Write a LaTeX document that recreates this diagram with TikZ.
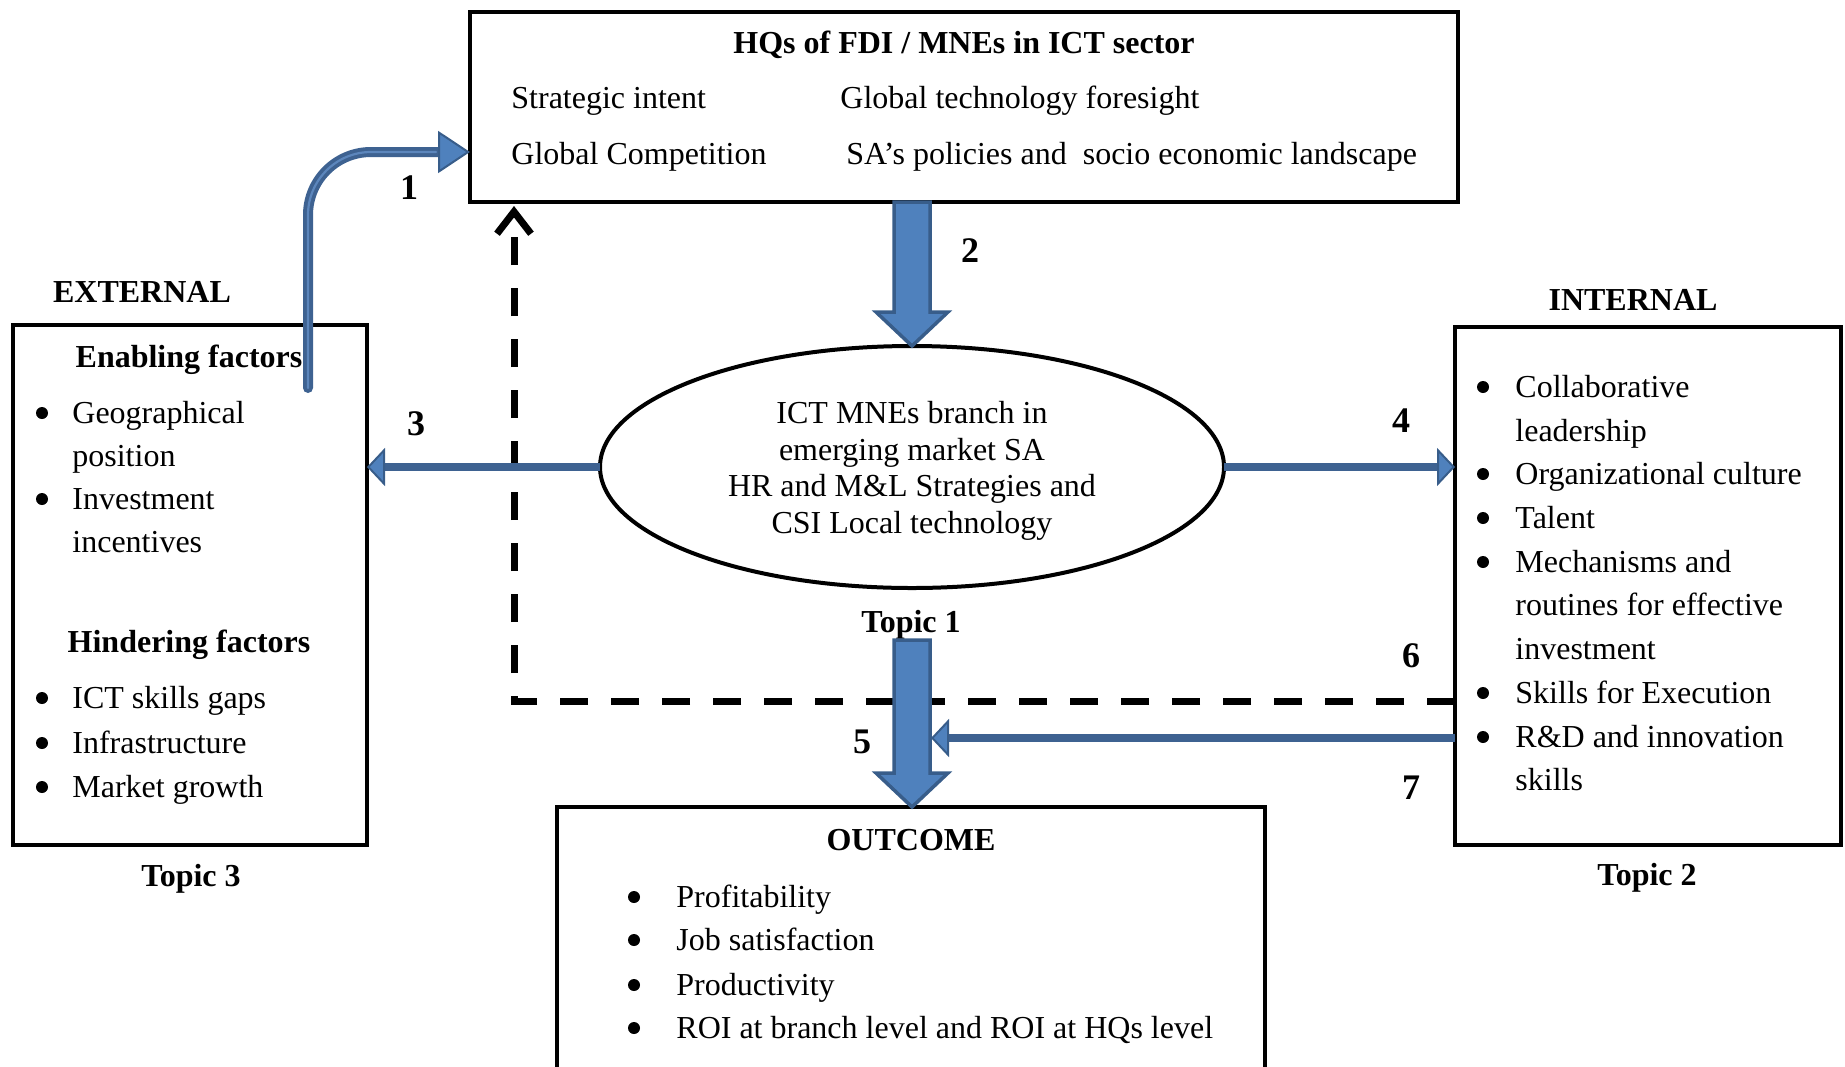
\documentclass[tikz,border=0pt]{standalone}
\usepackage{fontspec}
\setmainfont{Liberation Serif}
\usetikzlibrary{arrows.meta,shapes.geometric,calc}

\definecolor{arrowfill}{HTML}{4F81BD}
\definecolor{arrowline}{HTML}{385D8A}
\definecolor{shaftblue}{HTML}{3E6291}
\definecolor{shaftlight}{HTML}{5C86BC}

\newcommand\bodysize{\fontsize{16}{21.5}\selectfont}
\newcommand\numsize{\fontsize{18}{20}\selectfont}

\tikzset{
  smallhead/.tip={Triangle[length=9pt, width=19pt, fill=arrowfill, color=arrowline, line width=1pt]},
  bighead/.tip={Triangle[length=16pt, width=21pt, fill=arrowfill, color=arrowline, line width=1pt]},
  box/.style={draw, line width=2pt, inner sep=0pt, outer sep=0pt},
  txt/.style={inner sep=0pt, anchor=base west, font=\bodysize},
  hdr/.style={inner sep=0pt, anchor=base, font=\bodysize\bfseries},
  num/.style={inner sep=0pt, font=\numsize\bfseries},
  dot/.style={circle, fill=black, inner sep=0pt, minimum size=6pt},
  link/.style={draw=shaftblue, line width=4pt, -smallhead},
  mainshaft/.style={draw=shaftblue, line width=5pt, line cap=round, rounded corners=31.5pt, -bighead},
  blockarrow/.style={fill=arrowfill, draw=arrowline, line width=1.75pt, line join=miter},
  feedback/.style={draw=black, line width=3.5pt, dash pattern=on 14pt off 11.5pt,
    shorten >=2pt, -{Straight Barb[length=11pt, width=17pt]}}
}

% downward block arrow: #1 = top centre of the shaft, #2 = tip
\newcommand\downblock[2]{%
  \path[blockarrow] let \p1=(#1), \p2=(#2) in
    (\x2-9pt,\y1) -- (\x2-9pt,\y2+17pt) -- (\x2-18pt,\y2+17pt) -- (\x2,\y2)
    -- (\x2+18pt,\y2+17pt) -- (\x2+9pt,\y2+17pt) -- (\x2+9pt,\y1) -- cycle;}

\begin{document}
\begin{tikzpicture}[x=0.5pt,y=-0.5pt]
\useasboundingbox (0,0) rectangle (1845,1066);
\clip (0,0) rectangle (1845,1066);

% ---------- boxes ----------
\node[box, minimum width=494pt, minimum height=95pt] (hq) at (964,107) {};
\node[box, minimum width=177pt, minimum height=260pt] (ext) at (190,585) {};
\node[box, minimum width=193pt, minimum height=259pt] (int) at (1648,586) {};
\node[box, minimum width=354pt, minimum height=200pt] (outcome) at (911,1007) {};
\node[draw, ellipse, line width=2pt, minimum width=312pt, minimum height=121pt,
      inner sep=0pt, outer sep=0pt, align=center,
      font=\fontsize{16}{18.33}\selectfont] (branch) at (912,467)
  {\rule{0pt}{15pt}ICT MNEs branch in\\emerging market SA\\HR and M\&L Strategies and\\CSI Local technology};

% ---------- headquarters ----------
\node[hdr] (hqtitle) at (964,53) {HQs of FDI / MNEs in ICT sector};
\node[txt] (hq1) at (511,108) {Strategic intent};
\node[txt] (hq2) at (840,108) {Global technology foresight};
\node[txt] (hq3) at (511,164) {Global Competition};
\node[txt] (hq4) at (846,164) {SA’s policies and~ socio economic landscape};

% ---------- external factors ----------
\node[hdr] (exthead) at (142,302) {EXTERNAL};
\node[hdr] (enab) at (189,367) {Enabling factors};
\node[dot] (eb1) at (42,413) {};
\node[txt] (e1) at (72,423) {Geographical};
\node[txt] (e1b) at (72,466) {position};
\node[dot] (eb2) at (42,499) {};
\node[txt] (e2) at (72,509) {Investment};
\node[txt] (e2b) at (72,552) {incentives};
\node[hdr] (hind) at (189,652) {Hindering factors};
\node[dot] (hb1) at (42,698) {};
\node[txt] (h1) at (72,708) {ICT skills gaps};
\node[dot] (hb2) at (42,743) {};
\node[txt] (h2) at (72,753) {Infrastructure};
\node[dot] (hb3) at (42,787) {};
\node[txt] (h3) at (72,797) {Market growth};
\node[hdr] (topic3) at (191,886) {Topic 3};

% ---------- internal factors ----------
\node[hdr] (inthead) at (1633,310) {INTERNAL};
\node[dot] (ib1) at (1483,387) {};
\node[txt] (i1) at (1515,397) {Collaborative};
\node[txt] (i1b) at (1515,441) {leadership};
\node[dot] (ib2) at (1483,474) {};
\node[txt] (i2) at (1515,484) {Organizational culture};
\node[dot] (ib3) at (1483,518) {};
\node[txt] (i3) at (1515,528) {Talent};
\node[dot] (ib4) at (1483,562) {};
\node[txt] (i4) at (1515,572) {Mechanisms and};
\node[txt] (i4b) at (1515,615) {routines for effective};
\node[txt] (i4c) at (1515,659) {investment};
\node[dot] (ib5) at (1483,693) {};
\node[txt] (i5) at (1515,703) {Skills for Execution};
\node[dot] (ib6) at (1483,737) {};
\node[txt] (i6) at (1515,747) {R\&D and innovation};
\node[txt] (i6b) at (1515,790) {skills};
\node[hdr] (topic2) at (1647,885) {Topic 2};

% ---------- branch and outcome ----------
\node[hdr] (topic1) at (911,632) {Topic 1};
\node[hdr] (outhead) at (911,850) {OUTCOME};
\node[dot] (ob1) at (634,897) {};
\node[txt] (o1) at (676,907) {Profitability};
\node[dot] (ob2) at (634,940) {};
\node[txt] (o2) at (676,950) {Job satisfaction};
\node[dot] (ob3) at (634,985) {};
\node[txt] (o3) at (676,995) {Productivity};
\node[dot] (ob4) at (634,1028) {};
\node[txt] (o4) at (676,1038) {ROI at branch level and ROI at HQs level};

% ---------- feedback loop (6) ----------
\coordinate (fby) at (0,701);
\coordinate (fbx) at (514,0);
\draw[feedback] (int.west |- fby) -| (hq.south -| fbx);

% ---------- arrows ----------
% 1: enabling factors feed the headquarters
\coordinate (a1s) at (308,388);
\coordinate (a1y) at (0,152);
\draw[mainshaft] (a1s) |- (hq.west |- a1y);
\draw[shaftlight, line width=1.1pt, line cap=round, rounded corners=31.5pt, shorten >=17pt]
  (a1s) |- (hq.west |- a1y);

% 2: headquarters to branch
\downblock{hq.south -| branch.north}{branch.north}

% 3 and 4: branch to external and internal factors
\draw[link] (branch.west) -- (branch.west -| ext.east);
\draw[link] (branch.east) -- (branch.east -| int.west);

% 5: branch to outcome
\coordinate (a5top) at (912,640);
\downblock{a5top}{branch.south |- outcome.north}

% 7: internal factors to outcome arrow
\coordinate (a7y) at (0,738);
\coordinate (a5edge) at (931,738);
\draw[link] (int.west |- a7y) -- (a5edge);

% ---------- step numbers ----------
\node[num] (n1) at (409,188) {1};
\node[num] (n2) at (970,251) {2};
\node[num] (n3) at (416,424) {3};
\node[num] (n4) at (1401,421) {4};
\node[num] (n5) at (862,742) {5};
\node[num] (n6) at (1411,656) {6};
\node[num] (n7) at (1411,788) {7};
\end{tikzpicture}
\end{document}
